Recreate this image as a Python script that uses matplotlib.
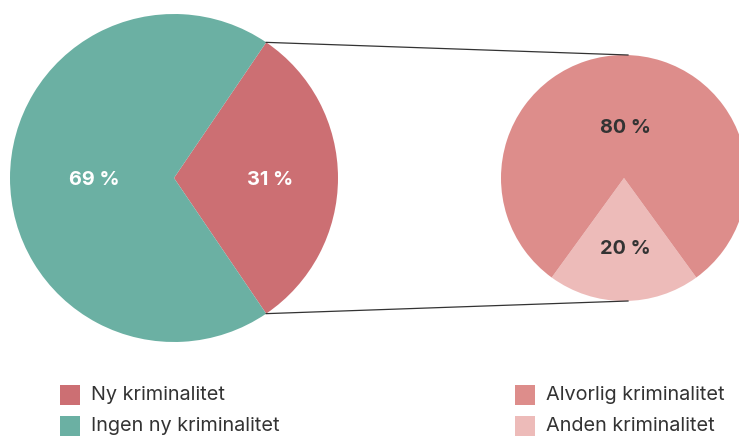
import numpy as np
import matplotlib.pyplot as plt
from matplotlib.patches import Rectangle

plt.rcParams['font.family'] = ['Inter', 'DejaVu Sans']

# data
main_labels = ['Ny kriminalitet', 'Ingen ny kriminalitet']
main_values = [31, 69]
main_colors = ['#CC6F73', '#6BB0A3']

sub_labels = ['Anden kriminalitet', 'Alvorlig kriminalitet']
sub_values = [20, 80]
sub_colors = ['#EDBBB9', '#DD8D8B']

W, H = 739, 437
fig = plt.figure(figsize=(W / 100, H / 100), dpi=100)
ax = fig.add_axes([0, 0, 1, 1])

def py(y):
    # pixel row -> data y
    return H - y

# big pie
c1, r1 = (174, py(178)), 164
half = main_values[0] / 100 * 360 / 2
ax.pie(main_values, colors=main_colors, center=c1, radius=r1,
       startangle=-half, counterclock=True,
       wedgeprops=dict(linewidth=0), frame=True)

# small pie
c2, r2 = (624, py(178)), 123
half2 = sub_values[0] / 100 * 360 / 2
ax.pie(sub_values, colors=sub_colors, center=c2, radius=r2,
       startangle=-90 - half2, counterclock=True,
       wedgeprops=dict(linewidth=0), frame=True)
ax.set_xlim(0, W)
ax.set_ylim(0, H)
ax.set_aspect('equal')
ax.axis('off')

# connector lines
a = np.radians(half)
p_top = (c1[0] + r1 * np.cos(a), c1[1] + r1 * np.sin(a))
p_bot = (c1[0] + r1 * np.cos(a), c1[1] - r1 * np.sin(a))
ax.plot([p_top[0], 628], [p_top[1], c2[1] + r2], color='#333333', lw=0.9)
ax.plot([p_bot[0], 628], [p_bot[1], c2[1] - r2], color='#333333', lw=0.9)

# pct labels
lab = dict(fontsize=14.3, fontweight='bold', ha='center', va='center')
ax.text(94, py(180), f'{main_values[1]} %', color='white', **lab)
ax.text(270, py(180), f'{main_values[0]} %', color='white', **lab)
ax.text(625, py(128), f'{sub_values[1]} %', color='#333333', **lab)
ax.text(625, py(249), f'{sub_values[0]} %', color='#333333', **lab)

# legends
def legend(x, items):
    for i, (txt, col) in enumerate(items):
        y = 395 + i * 31
        ax.add_patch(Rectangle((x, py(y + 10)), 20, 20, color=col, lw=0))
        ax.text(x + 31, py(y), txt, fontsize=14.3, color='#333333',
                ha='left', va='center')

legend(60, list(zip(main_labels, main_colors)))
legend(515, [(sub_labels[1], sub_colors[1]), (sub_labels[0], sub_colors[0])])

fig.savefig('out.png', dpi=100)
